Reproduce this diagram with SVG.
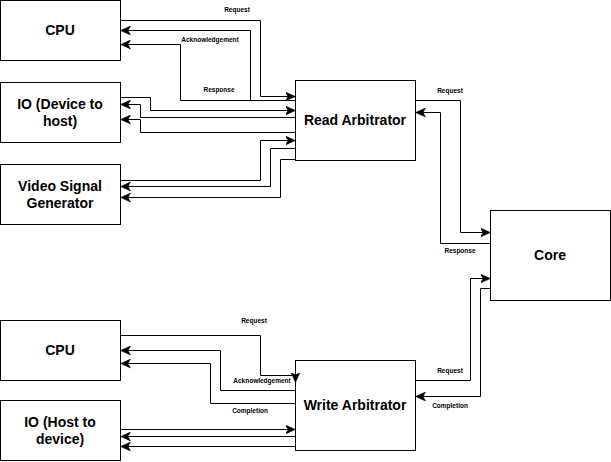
<svg xmlns="http://www.w3.org/2000/svg" width="611" height="462" viewBox="0 0 611 462">
<style>
.box{fill:#fff;stroke:#000;stroke-width:1}
.t{font-family:"Liberation Sans",Arial,sans-serif;font-weight:bold;font-size:14px;fill:#000;text-anchor:middle}
.l{font-family:"Liberation Sans",Arial,sans-serif;font-weight:bold;font-size:6.5px;fill:#000;text-anchor:middle}
.c{fill:none;stroke:#000;stroke-width:1;marker-end:url(#a)}
</style>
<defs>
<marker id="a" markerUnits="userSpaceOnUse" markerWidth="12" markerHeight="10" refX="10" refY="4.5" orient="auto" viewBox="0 0 12 9">
<path d="M0,0 L10,4.5 L0,9 L2.5,4.5 Z" fill="#000" stroke="#000" stroke-width="0.5"/>
</marker>
</defs>
<rect width="611" height="462" fill="#fff"/>
<g id="cpu1"><rect class="box" x="0.5" y="0.5" width="120" height="60"/><text class="t" x="60" y="35">CPU</text></g>
<g id="io1"><rect class="box" x="0.5" y="82.5" width="120" height="60"/><text class="t" x="60" y="109">IO (Device to</text><text class="t" x="60" y="126">host)</text></g>
<g id="video"><rect class="box" x="0.5" y="164.5" width="120" height="60"/><text class="t" x="60" y="191">Video Signal</text><text class="t" x="60" y="208">Generator</text></g>
<g id="readarb"><rect class="box" x="295.5" y="80.5" width="120" height="80"/><text class="t" x="355" y="125">Read Arbitrator</text></g>
<g id="core"><rect class="box" x="490.5" y="210.5" width="120" height="90"/><text class="t" x="550" y="260">Core</text></g>
<g id="cpu2"><rect class="box" x="0.5" y="320.5" width="120" height="60"/><text class="t" x="60" y="355">CPU</text></g>
<g id="io2"><rect class="box" x="0.5" y="400.5" width="120" height="60"/><text class="t" x="60" y="427">IO (Host to</text><text class="t" x="60" y="444">device)</text></g>
<g id="writearb"><rect class="box" x="295.5" y="360.5" width="120" height="90"/><text class="t" x="355" y="410">Write Arbitrator</text></g>
<g id="connectors">
<path class="c" d="M120.5,20.5 H260.5 V96.5 H295.5"/>
<path class="c" d="M295.5,100.5 H250.5 V30.5 H120.5"/>
<path class="c" d="M295.5,100.5 H180.5 V44.5 H120.5"/>
<path class="c" d="M120.5,97.5 H150.5 V110.5 H295.5"/>
<path class="c" d="M295.5,117.5 H140.5 V104.5 H120.5"/>
<path class="c" d="M295.5,132.5 H140.5 V119.5 H120.5"/>
<path class="c" d="M120.5,180.5 H260.5 V140.5 H295.5"/>
<path class="c" d="M295.5,148.5 H270.5 V186.5 H120.5"/>
<path class="c" d="M295.5,159.5 H280.5 V197.5 H120.5"/>
<path class="c" d="M415.5,100.5 H460.5 V232.5 H490.5"/>
<path class="c" d="M490.5,243.5 H440.5 V112.5 H415.5"/>
<path class="c" d="M120.5,335.5 H260.5 V375.5 H295.5 V382.5"/>
<path class="c" d="M295.5,390.5 H220.5 V350.5 H120.5"/>
<path class="c" d="M295.5,403.5 H210.5 V363.5 H120.5"/>
<path class="c" d="M120.5,429.5 H295.5"/>
<path class="c" d="M295.5,436.5 H120.5"/>
<path class="c" d="M295.5,446.5 H120.5"/>
<path class="c" d="M415.5,380.5 H470.5 V278.5 H490.5"/>
<path class="c" d="M490.5,288.5 H480.5 V396.5 H415.5"/>
<text class="l" x="237" y="12">Request</text>
<text class="l" x="210" y="42">Acknowledgement</text>
<text class="l" x="219" y="92">Response</text>
<text class="l" x="450" y="93">Request</text>
<text class="l" x="460" y="253">Response</text>
<text class="l" x="254" y="323">Request</text>
<text class="l" x="262" y="383">Acknowledgement</text>
<text class="l" x="250" y="413">Completion</text>
<text class="l" x="450" y="373">Request</text>
<text class="l" x="450" y="408">Completion</text>
</g>
</svg>
